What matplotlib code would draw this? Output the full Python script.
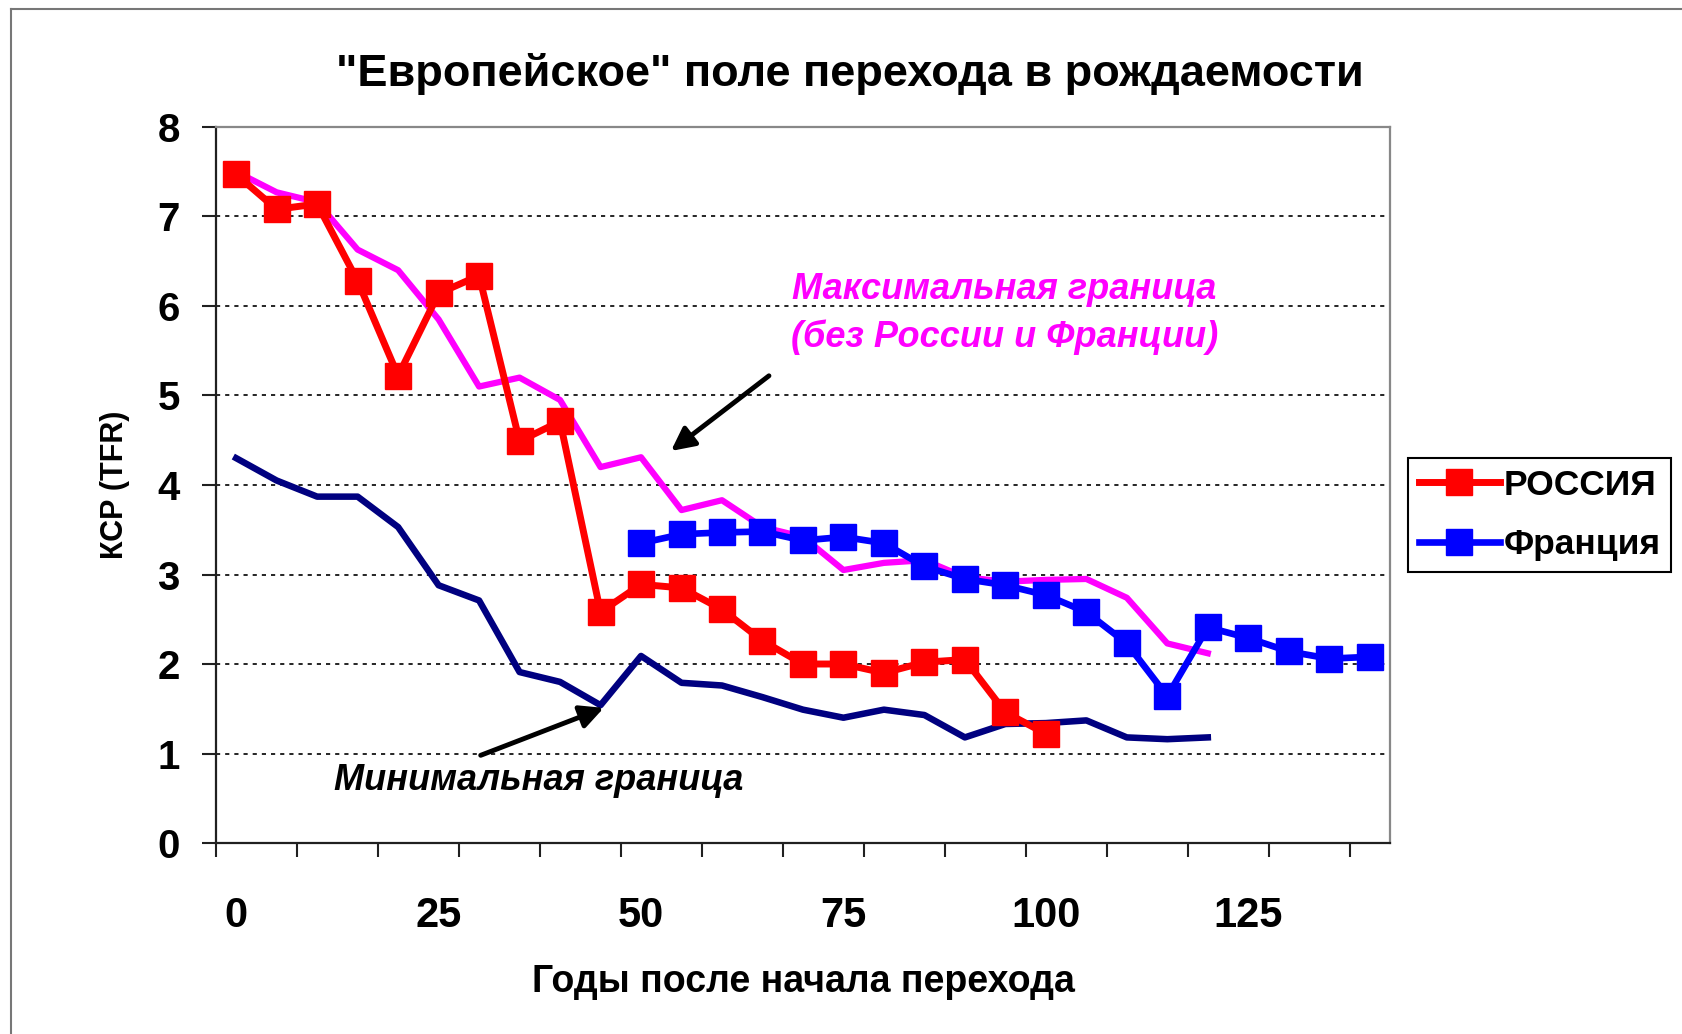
import numpy as np
import matplotlib
matplotlib.use("Agg")
import matplotlib.pyplot as plt
from matplotlib.lines import Line2D

plt.rcParams['font.family'] = ['Liberation Sans', 'DejaVu Sans']

# годы после начала перехода (шаг 5 лет)
years_max = [0, 5, 10, 15, 20, 25, 30, 35, 40, 45, 50, 55, 60, 65, 70, 75, 80,
             85, 90, 95, 100, 105, 110, 115, 120]
tfr_max = [7.50, 7.27, 7.16, 6.63, 6.40, 5.85, 5.10, 5.20, 4.95, 4.20, 4.31, 3.72,
           3.83, 3.53, 3.42, 3.05, 3.13, 3.16, 2.97, 2.92, 2.94, 2.95, 2.74, 2.23, 2.12]
tfr_min = [4.30, 4.05, 3.87, 3.87, 3.53, 2.88, 2.71, 1.91, 1.80, 1.54, 2.09, 1.79,
           1.76, 1.63, 1.49, 1.40, 1.49, 1.43, 1.18, 1.33, 1.34, 1.37, 1.18, 1.16, 1.18]

years_rus = [0, 5, 10, 15, 20, 25, 30, 35, 40, 45, 50, 55, 60, 65, 70, 75, 80,
             85, 90, 95, 100]
tfr_rus = [7.47, 7.08, 7.14, 6.28, 5.22, 6.14, 6.34, 4.49, 4.71, 2.58, 2.89, 2.85,
           2.61, 2.26, 2.00, 2.00, 1.90, 2.02, 2.05, 1.46, 1.22]

years_fra = [50, 55, 60, 65, 70, 75, 80, 85, 90, 95, 100, 105, 110, 115, 120,
             125, 130, 135, 140]
tfr_fra = [3.35, 3.45, 3.47, 3.48, 3.38, 3.42, 3.35, 3.09, 2.95, 2.88, 2.77, 2.58,
           2.23, 1.64, 2.41, 2.29, 2.14, 2.06, 2.08]

x_labels = [0, 25, 50, 75, 100, 125]

fig = plt.figure(figsize=(16.83, 10.34), dpi=100)
ax = fig.add_axes([0.1283, 0.1847, 0.6976, 0.6925])

# линии
ax.plot(years_max, tfr_max, color='#FF00FF', lw=4.5, zorder=2)
ax.plot(years_max, tfr_min, color='#000080', lw=4.7, zorder=2)
l_rus, = ax.plot(years_rus, tfr_rus, color='#FF0000', lw=5, marker='s',
                 markersize=18.5, zorder=3, label='РОССИЯ')
l_fra, = ax.plot(years_fra, tfr_fra, color='#0000FF', lw=4.8, marker='s',
                 markersize=19, zorder=3, label='Франция')

ax.set_xlim(-2.5, 142.5)
ax.set_ylim(0, 8)

ax.set_xticks(x_labels)
ax.set_xticklabels([str(v) for v in x_labels])
ax.set_xticks(np.arange(-2.5, 142, 10), minor=True)
ax.tick_params(axis='x', which='major', length=0, pad=38, labelsize=30)
ax.tick_params(axis='x', which='minor', length=10, width=1.5, direction='out',
               color='#202020')
for t in ax.get_xticklabels():
    t.set_fontweight('bold')

ax.set_yticks(range(0, 9))
ax.tick_params(axis='y', length=10, width=1.5, direction='out', pad=16,
               labelsize=29, color='#202020')
for t in ax.get_yticklabels():
    t.set_fontweight('bold')

ax.yaxis.grid(True, color='black', lw=1.2, linestyle=(0, (2.5, 3)))
ax.set_axisbelow(True)

ax.spines['left'].set_color('#202020')
ax.spines['bottom'].set_color('#202020')
ax.spines['top'].set_color('#888888')
ax.spines['right'].set_color('#888888')
for s in ax.spines.values():
    s.set_linewidth(1.6)

ax.set_ylabel('КСР (TFR)', fontsize=22, fontweight='bold', labelpad=20)
ax.set_xlabel('Годы после начала перехода', fontsize=27, fontweight='bold',
              labelpad=20)

fig.text(0.505, 0.928, '"Европейское" поле перехода в рождаемости',
         ha='center', va='center', fontsize=32.5, fontweight='bold')

# подписи границ
ax.text(94.9, 5.92, 'Максимальная граница\n(без России и Франции)', color='#FF00FF',
        ha='center', va='center', fontsize=26, fontweight='bold', style='italic',
        linespacing=1.45)
ax.annotate('', xy=(53.7, 4.38), xytext=(65.8, 5.22),
            arrowprops=dict(arrowstyle='-|>', color='black', lw=3.5,
                            mutation_scale=35, shrinkA=0, shrinkB=0))
ax.text(37.4, 0.70, 'Минимальная граница', color='black', ha='center', va='center',
        fontsize=26, fontweight='bold', style='italic')
ax.annotate('', xy=(45.4, 1.51), xytext=(30.2, 0.98),
            arrowprops=dict(arrowstyle='-|>', color='black', lw=3.5,
                            mutation_scale=35, shrinkA=0, shrinkB=0))

leg = fig.legend(handles=[l_rus, l_fra], loc='upper left',
                 bbox_to_anchor=(0.8366, 0.557),
                 prop={'weight': 'bold', 'size': 25.5}, handlelength=2.3,
                 handletextpad=0.1, borderpad=0.3, labelspacing=0.75,
                 fancybox=False, framealpha=1, edgecolor='black',
                 borderaxespad=0)
leg.get_frame().set_linewidth(1.5)

# рамка всей диаграммы
fig.add_artist(Line2D([0.0065, 1], [0.991, 0.991], color='#777777', lw=1.5))
fig.add_artist(Line2D([0.0065, 0.0065], [0, 0.991], color='#777777', lw=1.5))

fig.savefig('out.png', dpi=100)
